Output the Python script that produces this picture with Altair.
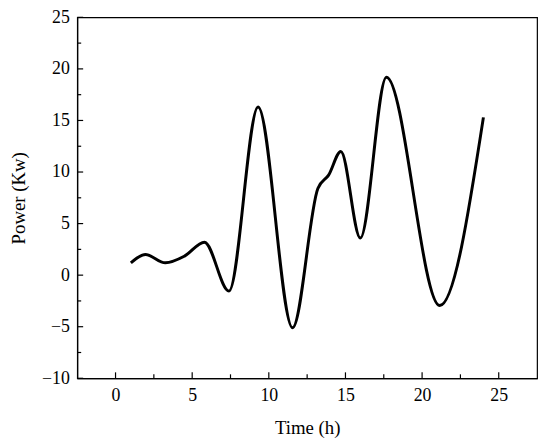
import altair as alt
import pandas as pd

# Time (h) and power (Kw)
times = [1, 1.95, 3.25, 4.5, 5.8, 7.4, 9.3, 11.55, 13.2, 13.9, 14.7, 15.97, 17.67, 21.15, 24]
power = [1.2, 2.0, 1.2, 1.85, 3.2, -1.55, 16.3, -5.1, 8.4, 9.7, 12.0, 3.6, 19.2, -2.95, 15.3]

x_major = [0, 5, 10, 15, 20, 25]
x_minor = [2.5, 7.5, 12.5, 17.5, 22.5]
y_major = [-10, -5, 0, 5, 10, 15, 20, 25]
y_minor = [-7.5, -2.5, 2.5, 7.5, 12.5, 17.5, 22.5]

W, H = 465, 365
df = pd.DataFrame({"t": times, "p": power})
xmaj = pd.DataFrame({"v": x_major})
xmin = pd.DataFrame({"v": x_minor})
ymaj = pd.DataFrame({"v": y_major})
ymin = pd.DataFrame({"v": y_minor})

FONT = "Liberation Serif"
xs = alt.Scale(domain=[-2.5, 27.5], nice=False, zero=False)
ys = alt.Scale(domain=[-10, 25], nice=False, zero=False)

common = dict(domainColor="black", domainWidth=1.2, ticks=False,
              labelFont=FONT, labelFontSize=18, labelColor="black",
              titleFont=FONT, titleFontSize=19, titleColor="black", titleFontWeight="normal",
              grid=False)

line = alt.Chart(df).mark_line(color="black", strokeWidth=3, interpolate="monotone").encode(
    x=alt.X("t:Q", scale=xs, axis=alt.Axis(values=x_major, title="Time (h)", orient="bottom",
                                             labelPadding=8, titlePadding=15, **common)),
    y=alt.Y("p:Q", scale=ys, axis=alt.Axis(values=y_major, title="Power (Kw)", orient="left",
                                             labelPadding=8, titlePadding=13, **common)),
)

def xticks(d, length):
    return alt.Chart(d).mark_rule(color="black", strokeWidth=1.2).encode(
        x=alt.X("v:Q", scale=xs, axis=None), y=alt.value(H), y2=alt.value(H - length))

def yticks(d, length):
    return alt.Chart(d).mark_rule(color="black", strokeWidth=1.2).encode(
        y=alt.Y("v:Q", scale=ys, axis=None), x=alt.value(0), x2=alt.value(length))

chart = alt.layer(
    line, xticks(xmaj, 6), xticks(xmin, 4), yticks(ymaj, 6), yticks(ymin, 4)
).resolve_axis(x="independent", y="independent").properties(
    width=W, height=H,
    autosize=alt.AutoSizeParams(type="none"),
    padding={"left": 70, "top": 7, "right": 5, "bottom": 62},
).configure(background="white").configure_view(stroke="black", strokeWidth=1.2)

chart.save("out.html", embed_options={"renderer": "svg", "actions": False})
